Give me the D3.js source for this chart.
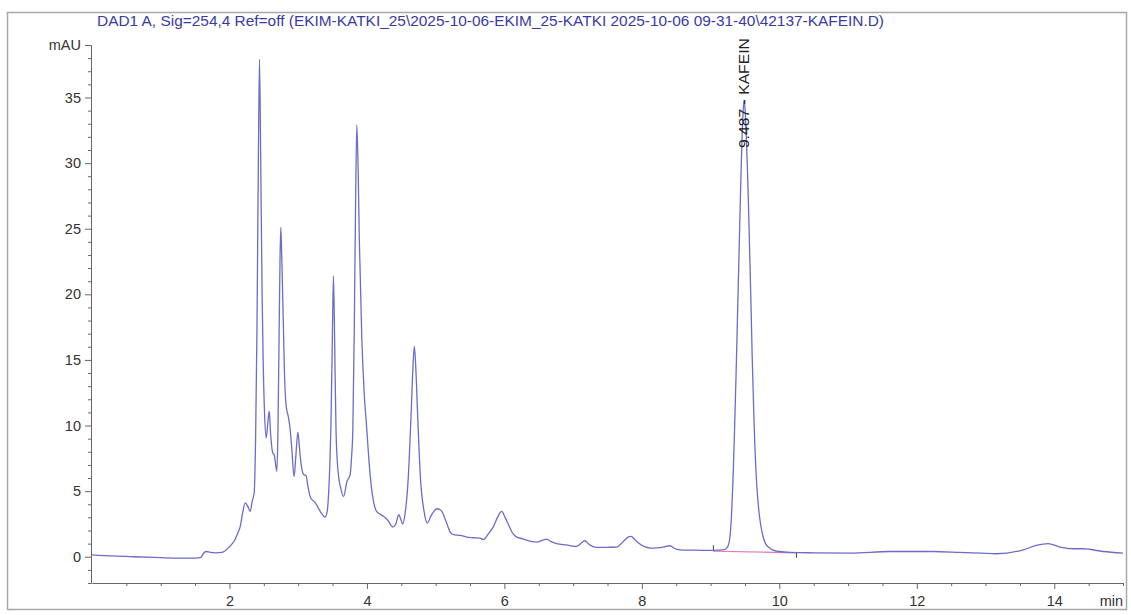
<!DOCTYPE html>
<html>
<head>
<meta charset="utf-8">
<script src="https://cdn.jsdelivr.net/npm/d3@7"></script>
<style>
  body { margin: 0; background: #fff; }
  svg { display: block; font-family: "Liberation Sans", Arial, sans-serif; }
</style>
</head>
<body>
<div id="chart-area"></div>
<script>
var title = 'DAD1 A, Sig=254,4 Ref=off (EKIM-KATKI_25\\2025-10-06-EKIM_25-KATKI 2025-10-06 09-31-40\\42137-KAFEIN.D)'

// retention time (min)
var times = [0.00,0.3,0.6,0.9,1.2,1.5,1.58,1.62,1.66,1.72,1.8,1.89,1.97,2.04,2.08,2.12,2.156,2.19,2.23,2.27,2.30,2.33,2.36,2.38,2.40,2.42,2.437,2.455,2.475,2.49,2.51,2.534,2.555,2.578,2.60,2.63,2.65,2.665,2.69,2.705,2.72,2.735,2.747,2.76,2.786,2.80,2.825,2.855,2.883,2.91,2.94,2.965,2.995,3.02,3.04,3.08,3.115,3.14,3.18,3.215,3.25,3.32,3.39,3.42,3.44,3.46,3.475,3.495,3.513,3.53,3.55,3.58,3.62,3.66,3.71,3.756,3.775,3.795,3.815,3.835,3.853,3.87,3.89,3.926,3.96,3.998,4.03,4.07,4.10,4.14,4.19,4.24,4.30,4.377,4.42,4.464,4.49,4.52,4.56,4.6,4.64,4.67,4.69,4.71,4.74,4.78,4.83,4.88,4.93,4.98,5.02,5.06,5.09,5.15,5.21,5.26,5.36,5.45,5.55,5.646,5.695,5.76,5.84,5.90,5.96,6.01,6.06,6.12,6.18,6.28,6.40,6.47,6.55,6.617,6.68,6.76,6.9,7.05,7.12,7.17,7.23,7.34,7.50,7.635,7.73,7.80,7.843,7.90,7.95,8.05,8.12,8.22,8.31,8.41,8.47,8.556,8.75,8.99,9.10,9.20,9.24,9.27,9.29,9.31,9.33,9.35,9.37,9.39,9.41,9.43,9.45,9.47,9.487,9.505,9.525,9.545,9.565,9.585,9.605,9.625,9.645,9.67,9.70,9.73,9.76,9.80,9.85,9.91,10.0,10.16,10.5,11.03,11.61,12.24,12.63,13.16,13.55,13.74,13.91,14.08,14.28,14.42,14.71,15.0]

// absorbance (mAU)
var signal = [0.15,0.06,0.0,-0.05,-0.1,-0.1,-0.07,0.25,0.4,0.33,0.3,0.33,0.6,1.0,1.3,1.8,2.3,3.3,4.1,3.8,3.46,4.2,4.9,9.0,17.3,30.0,37.9,30.0,20.0,15.0,11.0,9.06,10.0,11.1,9.3,7.9,7.8,7.3,6.5,9.5,16.0,22.5,25.1,23.0,17.3,14.0,11.5,10.7,9.7,8.0,6.1,7.6,9.5,8.2,7.15,6.26,6.18,5.4,4.5,4.3,4.1,3.46,3.03,3.4,4.6,7.0,9.7,16.0,21.4,16.5,9.7,6.5,5.2,4.6,5.75,6.26,7.5,9.7,17.0,27.0,32.9,30.0,24.0,16.6,12.5,9.7,7.3,5.1,4.1,3.46,3.25,3.08,2.8,2.27,2.5,3.2,2.9,2.5,3.5,5.9,10.5,14.5,16.05,14.5,10.5,5.9,3.5,2.57,3.1,3.5,3.66,3.6,3.46,2.7,1.9,1.68,1.63,1.5,1.45,1.42,1.3,1.7,2.3,3.0,3.46,3.0,2.44,1.8,1.5,1.35,1.15,1.12,1.25,1.35,1.15,1.0,0.9,0.79,1.05,1.22,0.95,0.71,0.72,0.74,1.17,1.5,1.55,1.3,1.05,0.75,0.66,0.68,0.74,0.84,0.65,0.53,0.5,0.48,0.5,0.55,0.7,1.1,2.0,3.8,6.5,10.0,13.8,18.0,22.3,26.6,30.6,33.6,34.8,33.8,31.2,28.0,24.0,19.8,15.3,11.5,8.3,5.6,3.6,2.4,1.6,1.0,0.7,0.5,0.4,0.33,0.3,0.28,0.4,0.4,0.33,0.23,0.53,0.86,1.0,0.74,0.61,0.61,0.4,0.28]

var xTickValues = [2, 4, 6, 8, 10, 12, 14]
var xTickLabels = ['2', '4', '6', '8', '10', '12', '14']
var yTickValues = [0, 5, 10, 15, 20, 25, 30, 35, 39]
var yTickLabels = ['0', '5', '10', '15', '20', '25', '30', '35', 'mAU']

// integrated peak: label and baseline
var peakTimes = [9.487]
var peakHeights = [34.8]
var peakNames = ['9.487 - KAFEIN']
var baselineTimes = [9.04, 10.25]
var baselineValues = [0.42, 0.30]

var W = 1131, H = 615
var plot = { left: 92, right: 1123, top: 45, bottom: 583 }

var svg = d3.select('#chart-area')
  .append('svg')
  .attr('width', W)
  .attr('height', H)

// outer frame
svg.append('rect')
  .attr('x', 7.5).attr('y', 12.5)
  .attr('width', 1119).attr('height', 597)
  .attr('fill', 'none')
  .attr('stroke', '#a8a8a8')
  .attr('stroke-width', 1.5)

svg.append('text')
  .attr('x', 97)
  .attr('y', 26)
  .attr('fill', '#3a3aa6')
  .style('font-size', '14px')
  .attr('textLength', 787)
  .attr('lengthAdjust', 'spacingAndGlyphs')
  .text(title)

var x = d3.scaleLinear().domain([0, 15]).range([plot.left, plot.right])
var y = d3.scaleLinear().domain([-2, 39]).range([plot.bottom, plot.top])

// minor ticks
var xMinor = d3.range(0.5, 15.01, 0.5).filter(function(t) { return xTickValues.indexOf(t) < 0 })
var yMinor = d3.range(-2, 39, 1).filter(function(v) { return yTickValues.indexOf(v) < 0 })

svg.append('g')
  .attr('transform', 'translate(0,' + plot.bottom + ')')
  .call(d3.axisBottom(x).tickValues(xMinor).tickSize(3).tickSizeOuter(0).tickFormat(''))

var xAxis = svg.append('g')
  .attr('transform', 'translate(0,' + plot.bottom + ')')
  .call(d3.axisBottom(x).tickValues(xTickValues).tickSize(6).tickSizeOuter(0)
    .tickFormat(function(d, i) { return xTickLabels[i] }))

svg.append('g')
  .attr('transform', 'translate(' + (plot.left - 1) + ',0)')
  .call(d3.axisLeft(y).tickValues(yMinor).tickSize(3).tickSizeOuter(0).tickFormat(''))

var yAxis = svg.append('g')
  .attr('transform', 'translate(' + (plot.left - 1) + ',0)')
  .call(d3.axisLeft(y).tickValues(yTickValues).tickSize(6).tickSizeOuter(0)
    .tickFormat(function(d, i) { return yTickLabels[i] }))

svg.selectAll('.domain, .tick line').attr('stroke', '#666').attr('stroke-width', 1)
svg.selectAll('.tick text')
  .attr('fill', '#333')
  .style('font-size', '14.5px')
  .style('font-family', '"Liberation Sans", Arial, sans-serif')
xAxis.selectAll('.tick text').attr('dy', '0.95em')
yAxis.selectAll('.tick text').attr('x', -10)

svg.append('text')
  .attr('x', plot.right)
  .attr('y', 606)
  .attr('text-anchor', 'end')
  .attr('fill', '#333')
  .style('font-size', '14.5px')
  .text('min')

// integration baseline
svg.append('line')
  .attr('x1', x(baselineTimes[0])).attr('y1', y(baselineValues[0]))
  .attr('x2', x(baselineTimes[1])).attr('y2', y(baselineValues[1]))
  .attr('stroke', '#e27ab4')
  .attr('stroke-width', 1.2)
svg.append('line')
  .attr('x1', x(baselineTimes[0])).attr('y1', y(baselineValues[0]))
  .attr('x2', x(baselineTimes[0])).attr('y2', y(baselineValues[0]) - 6)
  .attr('stroke', '#444')
svg.append('line')
  .attr('x1', x(baselineTimes[1])).attr('y1', y(baselineValues[1]))
  .attr('x2', x(baselineTimes[1])).attr('y2', y(baselineValues[1]) + 5)
  .attr('stroke', '#444')

var line = d3.line()
  .x(function(d, i) { return x(times[i]) })
  .y(function(d) { return y(d) })
  .curve(d3.curveMonotoneX)

svg.append('path')
  .datum(signal)
  .attr('d', line)
  .attr('fill', 'none')
  .attr('stroke', '#6c6cc9')
  .attr('stroke-width', 1.3)

// peak labels, written upward from just above the apex
peakTimes.forEach(function(t, i) {
  var px = x(t) + 5, py = y(peakHeights[i]) + 48
  svg.append('text')
    .attr('transform', 'translate(' + px + ',' + py + ') rotate(-90)')
    .attr('fill', '#222')
    .style('font-size', '15px')
    .attr('textLength', 110)
    .attr('lengthAdjust', 'spacingAndGlyphs')
    .text(peakNames[i])
})
</script>
</body>
</html>
